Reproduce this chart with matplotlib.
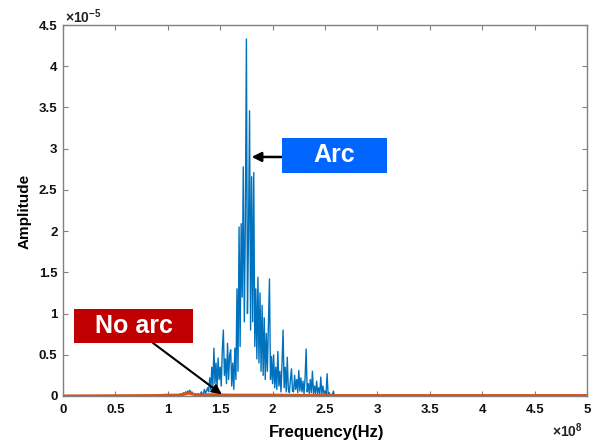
import matplotlib
matplotlib.use("Agg")
import matplotlib.pyplot as plt
import numpy as np
from matplotlib.patches import Rectangle

# ---- data (frequency in 1e8 Hz, amplitude in 1e-5) ----
arc_freq = [0.0, 1.00,
    1.10, 1.11, 1.12, 1.13, 1.14, 1.15, 1.16, 1.17, 1.18, 1.19,
    1.20, 1.21, 1.22, 1.23, 1.24, 1.25, 1.26, 1.27, 1.28, 1.29,
    1.30, 1.31, 1.32, 1.33, 1.34, 1.35, 1.36, 1.37, 1.38, 1.39,
    1.40, 1.41, 1.42, 1.43, 1.44, 1.45, 1.46, 1.47, 1.48, 1.49,
    1.50, 1.51, 1.52, 1.53, 1.54, 1.55, 1.56, 1.57, 1.58, 1.59,
    1.60, 1.61, 1.62, 1.63, 1.64, 1.65, 1.66, 1.67, 1.68, 1.69,
    1.70, 1.71, 1.72, 1.73, 1.74, 1.75, 1.76, 1.77, 1.78, 1.79,
    1.80, 1.81, 1.82, 1.83, 1.84, 1.85, 1.86, 1.87, 1.88, 1.89,
    1.90, 1.91, 1.92, 1.93, 1.94, 1.95, 1.96, 1.97, 1.98, 1.99,
    2.00, 2.01, 2.02, 2.03, 2.04, 2.05, 2.06, 2.07, 2.08, 2.09,
    2.10, 2.11, 2.12, 2.13, 2.14, 2.15, 2.16, 2.17, 2.18, 2.19,
    2.20, 2.21, 2.22, 2.23, 2.24, 2.25, 2.26, 2.27, 2.28, 2.29,
    2.30, 2.31, 2.32, 2.33, 2.34, 2.35, 2.36, 2.37, 2.38, 2.39,
    2.40, 2.41, 2.42, 2.43, 2.44, 2.45, 2.46, 2.47, 2.48, 2.49,
    2.50, 2.51, 2.52, 2.53, 2.54, 2.55, 2.56, 2.57, 2.58, 2.59,
    2.60, 5.00]
arc_amp = [0.0, 0.0,
    0.01, 0.02, 0.01, 0.03, 0.02, 0.04, 0.02, 0.05, 0.03, 0.06,
    0.04, 0.07, 0.03, 0.05, 0.02, 0.03, 0.01, 0.02, 0.01, 0.03,
    0.01, 0.02, 0.05, 0.02, 0.03, 0.08, 0.03, 0.06, 0.10, 0.05,
    0.22, 0.08, 0.35, 0.12, 0.58, 0.15, 0.40, 0.10, 0.46, 0.20,
    0.35, 0.12, 0.55, 0.80, 0.25, 0.45, 0.15, 0.64, 0.20, 0.50,
    0.56, 0.12, 0.40, 0.08, 0.58, 0.20, 1.30, 0.30, 2.05, 0.60,
    2.09, 1.20, 2.78, 0.90, 2.10, 4.33, 1.00, 1.95, 3.46, 0.80,
    2.66, 0.90, 2.71, 0.60, 1.30, 0.45, 1.44, 0.40, 1.25, 0.30,
    1.10, 0.25, 0.95, 0.20, 0.76, 0.30, 0.85, 1.42, 0.20, 0.48,
    0.15, 0.50, 0.10, 0.35, 0.08, 0.54, 0.12, 0.30, 0.05, 0.40,
    0.80, 0.10, 0.35, 0.05, 0.47, 0.08, 0.04, 0.20, 0.33, 0.06,
    0.05, 0.25, 0.08, 0.20, 0.04, 0.31, 0.06, 0.22, 0.05, 0.18,
    0.03, 0.22, 0.57, 0.05, 0.15, 0.03, 0.20, 0.04, 0.30, 0.03,
    0.12, 0.02, 0.18, 0.03, 0.10, 0.02, 0.23, 0.02, 0.12, 0.03,
    0.06, 0.02, 0.27, 0.01, 0.04, 0.01, 0.02, 0.01, 0.06, 0.00,
    0.00, 0.00]
noarc_freq = [0.0, 0.9, 1.0, 1.1, 1.15, 1.2, 1.25, 1.3, 1.4, 1.6, 2.0, 2.5, 5.0]
noarc_amp = [0.0, 0.005, 0.01, 0.01, 0.02, 0.035, 0.02, 0.01, 0.015, 0.01, 0.01, 0.005, 0.005]

xticks = [0, 0.5, 1, 1.5, 2, 2.5, 3, 3.5, 4, 4.5, 5]
yticks = [0, 0.5, 1, 1.5, 2, 2.5, 3, 3.5, 4, 4.5]

plt.rcParams['font.family'] = ['Liberation Sans', 'DejaVu Sans']
plt.rcParams['font.weight'] = 'bold'
plt.rcParams['mathtext.fontset'] = 'custom'
plt.rcParams['mathtext.rm'] = 'Liberation Sans:bold'
plt.rcParams['mathtext.it'] = 'Liberation Sans:bold'
plt.rcParams['mathtext.bf'] = 'Liberation Sans:bold'

W, H = 598, 441
fig = plt.figure(figsize=(W / 100, H / 100), dpi=100)
ax = fig.add_axes([63 / W, 1 - 396 / H, (587 - 63) / W, (396 - 25) / H])

ax.plot(arc_freq, arc_amp, color='#0072BD', lw=1.0, zorder=2)
ax.plot(noarc_freq, noarc_amp, color='#D95319', lw=2.2, zorder=3)

ax.set_xlim(0, 5)
ax.set_ylim(0, 4.5)
ax.set_xticks(xticks)
ax.set_yticks(yticks)
ax.set_xticklabels([f'{v:g}' for v in xticks])
ax.set_yticklabels([f'{v:g}' for v in yticks])
ax.tick_params(direction='in', length=3.5, width=0.8, color='#808080',
               labelsize=9.5, top=True, right=True, labelcolor='#111111')
ax.tick_params(axis='x', pad=6)
ax.tick_params(axis='y', pad=4)
for s in ax.spines.values():
    s.set_color('#808080')
    s.set_linewidth(1.0)

ax.set_xlabel('Frequency(Hz)', fontsize=12, fontweight='bold', va='center')
ax.set_ylabel('Amplitude', fontsize=11, fontweight='bold', va='center')
ax.xaxis.set_label_coords((327 - 63) / 524, (396 - 432) / 371)
ax.yaxis.set_label_coords((25 - 63) / 524, (396 - 211) / 371)

fig.text(65 / W, 1 - 23 / H, r'$\times10^{-5}$', fontsize=10, color='#222222',
         ha='left', va='baseline')
fig.text(552 / W, 1 - 437 / H, r'$\times10^{8}$', fontsize=10, color='#222222',
         ha='left', va='baseline')

def box(x0, y0, x1, y1, color, label):
    fig.patches.append(Rectangle((x0 / W, 1 - y1 / H), (x1 - x0) / W, (y1 - y0) / H,
                                 transform=fig.transFigure, facecolor=color,
                                 edgecolor='none', zorder=5))
    fig.text((x0 + x1) / 2 / W, 1 - (y0 + y1) / 2 / H, label, color='white',
             fontsize=18, fontweight='bold', ha='center', va='center', zorder=6)

box(282, 138, 387, 173, '#0066FF', 'Arc')
box(74, 309, 193, 343, '#C00000', 'No arc')

ax.annotate('', xy=(1.80, 2.90), xycoords='data',
            xytext=(282 / W, 1 - 157 / H), textcoords='figure fraction',
            arrowprops=dict(arrowstyle='-|>', color='black', lw=1.8,
                            mutation_scale=14, shrinkA=0, shrinkB=0), zorder=7)
ax.annotate('', xy=(1.514, 0.02), xycoords='data',
            xytext=(153 / W, 1 - 343 / H), textcoords='figure fraction',
            arrowprops=dict(arrowstyle='-|>', color='black', lw=1.5,
                            mutation_scale=14, shrinkA=0, shrinkB=0), zorder=7)

fig.savefig('out.png', dpi=100)
